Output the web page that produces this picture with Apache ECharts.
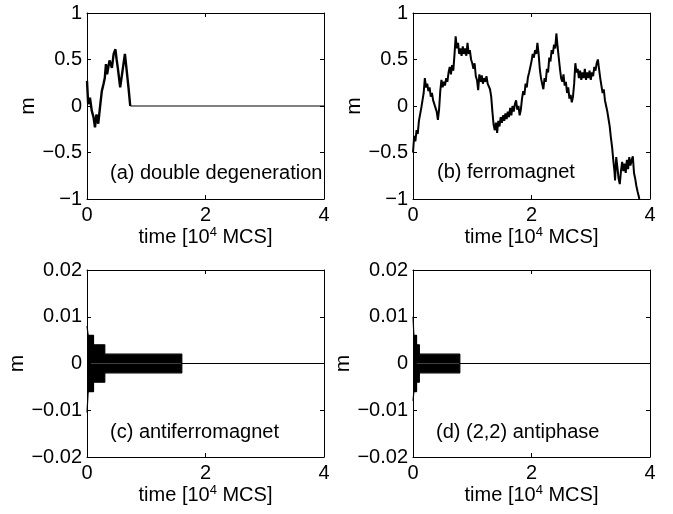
<!DOCTYPE html>
<html>
<head>
<meta charset="utf-8">
<script src="https://cdn.jsdelivr.net/npm/echarts@6/dist/echarts.min.js"></script>
<style>
  html, body { margin: 0; padding: 0; background: #fff; }
  #chart { width: 673px; height: 514px; }
</style>
</head>
<body>
<div id="chart"></div>
<script>
// tick values
const xTicks = [0, 2, 4]
const yTicksTop = [-1, -0.5, 0, 0.5, 1]
const yTicksBottom = [-0.02, -0.01, 0, 0.01, 0.02]

// (a) double degeneration: noisy part, then stuck at 0
const aTime = [0, 0.02, 0.05, 0.08, 0.11, 0.135, 0.16, 0.19, 0.22, 0.25, 0.28, 0.30, 0.32, 0.34, 0.36, 0.38, 0.42, 0.45, 0.48, 0.50, 0.52, 0.56, 0.60, 0.64, 0.67, 0.70, 0.73]
const aM = [0.27, 0.02, 0.09, -0.05, -0.12, -0.23, -0.09, -0.19, -0.01, 0.16, 0.24, 0.30, 0.45, 0.34, 0.42, 0.49, 0.41, 0.56, 0.61, 0.50, 0.41, 0.20, 0.38, 0.56, 0.38, 0.20, 0]
const aFlatTime = [0.73, 4]
const aFlatM = [0, 0]

// (b) ferromagnet
const bTime = [
  0.00, 0.02, 0.04, 0.06, 0.08, 0.10, 0.12, 0.14, 0.16, 0.18, 0.20, 0.22, 0.24, 0.26, 0.28, 0.30, 0.32, 0.34, 0.36, 0.38,
  0.40, 0.42, 0.44, 0.46, 0.48, 0.50, 0.52, 0.54, 0.56, 0.58, 0.60, 0.62, 0.64, 0.66, 0.68, 0.70, 0.72, 0.74, 0.76, 0.78,
  0.80, 0.82, 0.84, 0.86, 0.88, 0.90, 0.92, 0.94, 0.96, 0.98, 1.00, 1.02, 1.04, 1.06, 1.08, 1.10, 1.12, 1.14, 1.16, 1.18,
  1.20, 1.22, 1.24, 1.26, 1.28, 1.30, 1.32, 1.34, 1.36, 1.38, 1.40, 1.42, 1.44, 1.46, 1.48, 1.50, 1.52, 1.54, 1.56, 1.58,
  1.60, 1.62, 1.64, 1.66, 1.68, 1.70, 1.72, 1.74, 1.76, 1.78, 1.80, 1.82, 1.84, 1.86, 1.88, 1.90, 1.92, 1.94, 1.96, 1.98,
  2.00, 2.02, 2.04, 2.06, 2.08, 2.10, 2.12, 2.14, 2.16, 2.18, 2.20, 2.22, 2.24, 2.26, 2.28, 2.30, 2.32, 2.34, 2.36, 2.38,
  2.40, 2.42, 2.44, 2.46, 2.48, 2.50, 2.52, 2.54, 2.56, 2.58, 2.60, 2.62, 2.64, 2.66, 2.68, 2.70, 2.72, 2.74, 2.76, 2.78,
  2.80, 2.82, 2.84, 2.86, 2.88, 2.90, 2.92, 2.94, 2.96, 2.98, 3.00, 3.02, 3.04, 3.06, 3.08, 3.10, 3.12, 3.14, 3.16, 3.18,
  3.20, 3.22, 3.24, 3.26, 3.28, 3.30, 3.32, 3.34, 3.36, 3.38, 3.40, 3.41, 3.43, 3.45, 3.47, 3.49, 3.51, 3.53, 3.55, 3.57,
  3.59, 3.61, 3.63, 3.65, 3.67, 3.69, 3.71, 3.73, 3.75, 3.77, 3.79, 3.81, 3.82
]
const bM = [
  -0.50, -0.32, -0.38, -0.26, -0.30, -0.16, -0.14, -0.02, 0.06, 0.14, 0.30, 0.20, 0.24, 0.16, 0.20, 0.10, 0.14, 0.06, 0.08, -0.02,
  -0.06, -0.15, -0.04, 0.16, 0.28, 0.20, 0.26, 0.22, 0.30, 0.26, 0.36, 0.42, 0.34, 0.44, 0.38, 0.55, 0.75, 0.62, 0.68, 0.56,
  0.62, 0.54, 0.64, 0.56, 0.62, 0.54, 0.68, 0.56, 0.60, 0.50, 0.46, 0.40, 0.46, 0.32, 0.28, 0.17, 0.34, 0.26, 0.33, 0.24,
  0.30, 0.26, 0.32, 0.24, 0.26, 0.18, 0.10, -0.06, -0.20, -0.26, -0.18, -0.29, -0.16, -0.22, -0.12, -0.18, -0.10, -0.16, -0.08, -0.14,
  -0.06, -0.12, -0.02, -0.10, 0.00, -0.06, 0.02, 0.06, -0.04, 0.00, -0.10, -0.04, 0.08, 0.16, 0.12, 0.24, 0.20, 0.31, 0.36, 0.42,
  0.48, 0.56, 0.52, 0.60, 0.56, 0.68, 0.56, 0.40, 0.30, 0.24, 0.18, 0.30, 0.26, 0.40, 0.36, 0.52, 0.48, 0.60, 0.56, 0.66,
  0.62, 0.78, 0.64, 0.52, 0.40, 0.30, 0.26, 0.34, 0.22, 0.26, 0.14, 0.20, 0.08, 0.12, 0.04, 0.10, 0.24, 0.46, 0.36, 0.40,
  0.30, 0.38, 0.28, 0.36, 0.30, 0.40, 0.28, 0.36, 0.30, 0.38, 0.28, 0.36, 0.32, 0.42, 0.38, 0.46, 0.50, 0.40, 0.30, 0.22,
  0.14, 0.18, 0.06, 0.04, -0.06, -0.14, -0.22, -0.34, -0.44, -0.58, -0.70, -0.80, -0.55, -0.66, -0.78, -0.84, -0.70, -0.60, -0.70, -0.62,
  -0.72, -0.58, -0.68, -0.55, -0.64, -0.58, -0.54, -0.72, -0.78, -0.86, -0.92, -0.97, -1.00
]

// (c) antiferromagnet: oscillation envelope, held from each time to the next
const cTime = [0, 0.02, 0.11, 0.30, 1.60, 4]
const cUpper = [0.008, 0.006, 0.004, 0.002, 0, 0]
const cLower = [-0.0105, -0.006, -0.004, -0.002, 0, 0]

// (d) (2,2) antiphase
const dTime = [0, 0.015, 0.06, 0.107, 0.79, 4]
const dUpper = [0.010, 0.006, 0.004, 0.002, 0, 0]
const dLower = [-0.008, -0.006, -0.004, -0.002, 0, 0]

const labels = ['(a) double degeneration', '(b) ferromagnet', '(c) antiferromagnet', '(d) (2,2) antiphase']

const font = 'Liberation Sans, Arial, Helvetica, sans-serif'
const fs = 20

const zip = (xs, ys) => xs.map((x, i) => [x, ys[i]])
const fmt = v => {
  const s = String(+Math.abs(v).toFixed(3))
  return v < -1e-9 ? '\u2212' + s : s
}

const layout = [
  { left: 87, top: 13, width: 237, height: 186, ticks: yTicksTop, yGap: 44, xGap: 21, tLeft: 110, tTop: 163 },
  { left: 413, top: 13, width: 237, height: 186, ticks: yTicksTop, yGap: 46, xGap: 21, tLeft: 437, tTop: 162 },
  { left: 87, top: 270, width: 237, height: 187, ticks: yTicksBottom, yGap: 56, xGap: 23, tLeft: 110, tTop: 422 },
  { left: 413, top: 270, width: 237, height: 187, ticks: yTicksBottom, yGap: 54, xGap: 23, tLeft: 436, tTop: 422 }
]

const grid = [], xAxis = [], yAxis = [], title = []
const tick = { show: true, inside: true, length: 4, lineStyle: { color: '#000', width: 1 } }
const line = { show: true, onZero: false, lineStyle: { color: '#000', width: 1 } }

layout.forEach((p, i) => {
  grid.push({ left: p.left, top: p.top, width: p.width, height: p.height })
  const yMin = p.ticks[0], yMax = p.ticks[p.ticks.length - 1], yStep = p.ticks[1] - p.ticks[0]
  const xBase = {
    type: 'value', gridIndex: i, min: xTicks[0], max: xTicks[xTicks.length - 1], interval: xTicks[1] - xTicks[0],
    axisLine: line, axisTick: tick, splitLine: { show: false }
  }
  const yBase = {
    type: 'value', gridIndex: i, min: yMin, max: yMax, interval: yStep,
    axisLine: line, axisTick: tick, splitLine: { show: false }
  }
  xAxis.push(Object.assign({}, xBase, {
    position: 'bottom',
    axisLabel: { show: true, margin: 6, color: '#000', fontSize: fs, fontFamily: font },
    name: '{t|time [10}{s|4}{t| MCS]}',
    nameLocation: 'middle',
    nameGap: p.xGap,
    nameTextStyle: {
      color: '#000', fontSize: fs, fontFamily: font,
      rich: {
        t: { color: '#000', fontSize: fs, fontFamily: font, lineHeight: 23 },
        s: { color: '#000', fontSize: 13, fontFamily: font, lineHeight: 23, verticalAlign: 'top' }
      }
    }
  }))
  xAxis.push(Object.assign({}, xBase, { position: 'top', axisLabel: { show: false } }))
  yAxis.push(Object.assign({}, yBase, {
    position: 'left',
    axisLabel: { show: true, margin: 5, color: '#000', fontSize: fs, fontFamily: font, formatter: fmt },
    name: 'm',
    nameLocation: 'middle',
    nameRotate: 90,
    nameGap: p.yGap,
    nameTextStyle: { color: '#000', fontSize: fs + 1, fontFamily: font }
  }))
  yAxis.push(Object.assign({}, yBase, { position: 'right', axisLabel: { show: false } }))
  title.push({
    text: labels[i], left: p.tLeft, top: p.tTop, padding: 0,
    textStyle: { color: '#000', fontSize: fs, fontWeight: 'normal', fontFamily: font }
  })
})

const lineSeries = (i, data, w) => ({
  type: 'line', xAxisIndex: i * 2, yAxisIndex: i * 2, data: data,
  showSymbol: false, symbol: 'none', animation: false,
  lineStyle: { color: '#000', width: w }
})
const bandSeries = (i, data) => ({
  type: 'line', xAxisIndex: i * 2, yAxisIndex: i * 2, data: data, step: 'end',
  showSymbol: false, symbol: 'none', animation: false,
  lineStyle: { color: '#000', width: 1.2 },
  areaStyle: { color: '#000', opacity: 1, origin: 'auto' }
})

const series = [
  lineSeries(0, zip(aTime, aM), 2.4),
  lineSeries(0, zip(aFlatTime, aFlatM), 1.2),
  lineSeries(1, zip(bTime, bM), 2),
  bandSeries(2, zip(cTime, cUpper)),
  bandSeries(2, zip(cTime, cLower)),
  bandSeries(3, zip(dTime, dUpper)),
  bandSeries(3, zip(dTime, dLower))
]

const chart = echarts.init(document.getElementById('chart'), null, { renderer: 'canvas' })
chart.setOption({ animation: false, backgroundColor: '#fff', title, grid, xAxis, yAxis, series })
</script>
</body>
</html>
